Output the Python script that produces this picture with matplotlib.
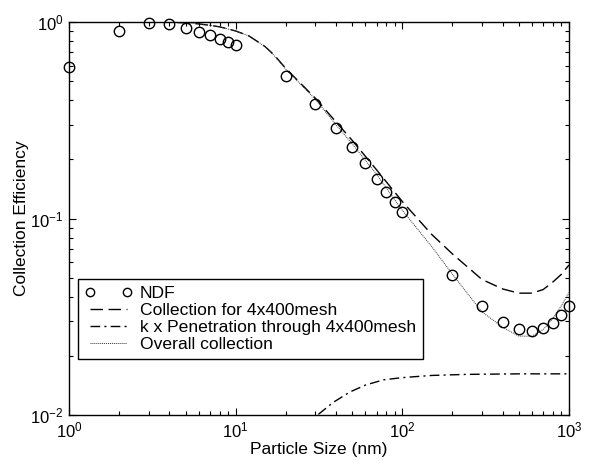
import numpy as np
import matplotlib
matplotlib.use('Agg')
import matplotlib.pyplot as plt

plt.rcParams['font.family'] = ['Liberation Sans', 'DejaVu Sans']
plt.rcParams['mathtext.default'] = 'regular'

# measured points (NDF)
ndf_size = [1, 2, 3, 4, 5, 6, 7, 8, 9, 10, 20, 30, 40, 50, 60, 70, 80, 90, 100,
            200, 300, 400, 500, 600, 700, 800, 900, 1000]
ndf_eff = [0.59, 0.90, 0.99, 0.977, 0.935, 0.886, 0.856, 0.82, 0.794, 0.767,
           0.533, 0.384, 0.29, 0.23, 0.191, 0.159, 0.137, 0.122, 0.108,
           0.0515, 0.0359, 0.0298, 0.0273, 0.0269, 0.0277, 0.0293, 0.0322, 0.0359]

# model curves
curve_size = [1, 2, 3, 4, 5, 6, 7, 8, 10, 12, 15, 17, 20, 30, 40, 50, 70, 100,
              150, 200, 300, 400, 500, 600, 700, 800, 900, 1000]
mesh_eff = [1.0, 1.0, 1.0, 0.998, 0.99, 0.978, 0.962, 0.945, 0.90, 0.85, 0.75,
            0.68, 0.58, 0.41, 0.31, 0.25, 0.177, 0.122, 0.083, 0.066, 0.049,
            0.0438, 0.0417, 0.0417, 0.0435, 0.0475, 0.052, 0.058]
overall_eff = [1.0, 1.0, 1.0, 0.998, 0.99, 0.978, 0.962, 0.945, 0.90, 0.85, 0.75,
               0.675, 0.575, 0.405, 0.30, 0.24, 0.168, 0.110, 0.072, 0.052,
               0.0335, 0.028, 0.0252, 0.0252, 0.0272, 0.031, 0.036, 0.042]

pen_size = [25, 31, 38.5, 48.5, 60, 77, 100, 122, 150, 243, 500, 1000]
pen_eff = [0.0088, 0.0100, 0.0116, 0.0131, 0.0142, 0.0151, 0.0155, 0.0157,
           0.0159, 0.0161, 0.0162, 0.0162]

fig = plt.figure(figsize=(5.93, 4.67), dpi=100)
ax = fig.add_axes([0.1164, 0.1113, 0.8431, 0.8416])

ax.plot(ndf_size, ndf_eff, 'o', mfc='none', mec='black', ms=7.5, mew=1.0,
        clip_on=False, zorder=5, label='NDF')
ax.plot(curve_size, mesh_eff, color='black', lw=1.0, ls=(0, (9, 4)),
        label='Collection for 4x400mesh')
ax.plot(pen_size, pen_eff, color='black', lw=1.0, ls=(0, (7, 3, 1.5, 3)),
        label='k x Penetration through 4x400mesh')
ax.plot(curve_size, overall_eff, color='#333333', lw=0.7, ls=(0, (1, 1)),
        label='Overall collection')

ax.set_xscale('log')
ax.set_yscale('log')
ax.set_xlim(1, 1000)
ax.set_ylim(0.01, 1)

ax.tick_params(which='both', direction='in', top=True, right=True,
               labelsize=12, colors='black')
ax.tick_params(which='major', length=5, width=0.8)
ax.tick_params(which='minor', length=3, width=0.8)
ax.tick_params(axis='x', which='major', pad=4)
ax.tick_params(axis='y', which='major', pad=4)
for s in ax.spines.values():
    s.set_linewidth(1.0)

ax.set_xlabel('Particle Size (nm)', fontsize=12.5, labelpad=1)
ax.set_ylabel('Collection Efficiency', fontsize=12.5, labelpad=1)

leg = ax.legend(loc='upper left', bbox_to_anchor=(0.017, 0.346),
                borderaxespad=0, fancybox=False, edgecolor='black',
                framealpha=1, fontsize=12.6, numpoints=2, handlelength=2.7,
                labelspacing=0.1, borderpad=0.4, handletextpad=0.45,
                markerscale=0.8)
leg.get_frame().set_linewidth(1.0)

fig.savefig('out.png', dpi=100)
